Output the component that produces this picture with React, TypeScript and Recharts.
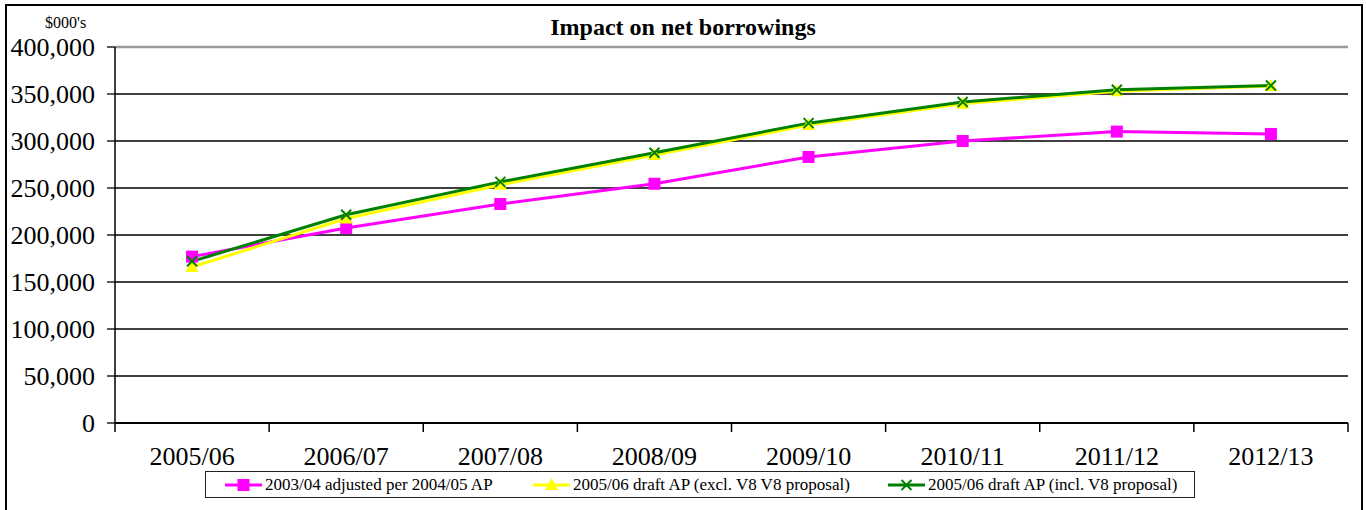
import React from 'react';
import { LineChart, Line, XAxis, YAxis, CartesianGrid, ReferenceLine } from 'recharts';

const years = ['2005/06', '2006/07', '2007/08', '2008/09', '2009/10', '2010/11', '2011/12', '2012/13'];
const adjusted0304 = [177000, 207500, 233000, 254500, 283000, 300000, 310000, 307500];
const draftExclV8 = [166000, 217500, 253500, 285000, 317000, 339500, 353000, 358500];
const draftInclV8 = [172000, 221500, 256500, 287500, 319000, 341500, 354500, 359000];
const yTicks = [0, 50000, 100000, 150000, 200000, 250000, 300000, 350000, 400000];
const seriesNames = [
  '2003/04 adjusted per 2004/05 AP',
  '2005/06 draft AP (excl. V8 V8 proposal)',
  '2005/06 draft AP (incl. V8 proposal)',
];

const PINK = '#FF00FF';
const YELLOW = '#FFFF00';
const GREEN = '#008000';
const FONT = '"Liberation Serif", "Times New Roman", serif';
const TICK_MARGIN = 24;

const data = years.map((year, i) => ({
  year,
  adjusted: adjusted0304[i],
  excl: draftExclV8[i],
  incl: draftInclV8[i],
}));

const square = (cx: number, cy: number) => (
  <rect x={cx - 6} y={cy - 6} width={12} height={12} fill={PINK} />
);
const triangle = (cx: number, cy: number) => (
  <polygon points={`${cx},${cy - 7} ${cx + 6.5},${cy + 5} ${cx - 6.5},${cy + 5}`} fill={YELLOW} />
);
const cross = (cx: number, cy: number) => (
  <path
    d={`M${cx - 5},${cy - 5}L${cx + 5},${cy + 5}M${cx + 5},${cy - 5}L${cx - 5},${cy + 5}`}
    stroke={GREEN}
    strokeWidth={2}
    fill="none"
  />
);

const markers = [square, triangle, cross];
const colors = [PINK, YELLOW, GREEN];

const makeDot = (draw: (cx: number, cy: number) => React.ReactElement) => (props: any) => {
  const { cx, cy, index } = props;
  if (cx == null || cy == null) return <g key={index} />;
  return <g key={index}>{draw(cx, cy)}</g>;
};

const fmt = (v: number) => v.toLocaleString('en-US');

// category label plus tick marks at the band edges (Excel style)
const YearTick = (props: any) => {
  const { x, y, payload, index } = props;
  const half = payload?.offset ?? 0;
  const axisY = y - TICK_MARGIN;
  return (
    <g>
      <line x1={x - half} y1={axisY} x2={x - half} y2={axisY + 9} stroke="#000" strokeWidth={1.5} />
      {index === years.length - 1 && (
        <line x1={x + half} y1={axisY} x2={x + half} y2={axisY + 9} stroke="#000" strokeWidth={1.5} />
      )}
      <text x={x} y={y} dy="0.71em" textAnchor="middle" fontSize={26} fill="#000" fontFamily={FONT}>
        {payload.value}
      </text>
    </g>
  );
};

const App = () => {
  return (
    <div
      style={{
        position: 'absolute',
        left: 0,
        top: 0,
        width: 1366,
        height: 510,
        overflow: 'hidden',
        background: '#fff',
        fontFamily: FONT,
      }}
    >
      <div
        style={{
          position: 'absolute',
          left: 5,
          top: 4,
          width: 1358,
          height: 600,
          border: '2px solid #000',
          boxSizing: 'border-box',
        }}
      />
      <div style={{ position: 'absolute', left: 45, top: 14, fontSize: 16, lineHeight: '18px' }}>$000's</div>
      <div
        style={{
          position: 'absolute',
          left: 0,
          width: 1366,
          top: 13,
          textAlign: 'center',
          fontSize: 24,
          fontWeight: 'bold',
          lineHeight: '28px',
        }}
      >
        Impact on net borrowings
      </div>

      <div style={{ position: 'absolute', left: 0, top: 0 }}>
        <LineChart width={1366} height={510} data={data} margin={{ top: 47, right: 18, left: 0, bottom: 0 }}>
          <CartesianGrid vertical={false} stroke="#000" strokeWidth={1.3} />
          <XAxis
            dataKey="year"
            scale="band"
            height={87}
            interval={0}
            axisLine={{ stroke: '#000', strokeWidth: 2 }}
            tickLine={false}
            tickSize={0}
            tickMargin={TICK_MARGIN}
            tick={<YearTick />}
          />
          <YAxis
            width={115}
            domain={[0, 400000]}
            ticks={yTicks}
            interval={0}
            tickFormatter={fmt}
            axisLine={{ stroke: '#000', strokeWidth: 1.5 }}
            tickLine={{ stroke: '#000', strokeWidth: 1.3 }}
            tickSize={8}
            tickMargin={12}
            tick={{ fontSize: 26, fill: '#000', fontFamily: FONT }}
          />
          <YAxis
            yAxisId="r"
            orientation="right"
            width={0}
            domain={[0, 1]}
            tick={false}
            tickLine={false}
            axisLine={{ stroke: '#999', strokeWidth: 2.5 }}
          />
          <ReferenceLine y={400000} stroke="#999" strokeWidth={2.5} />
          <Line
            dataKey="adjusted"
            name={seriesNames[0]}
            stroke={PINK}
            strokeWidth={3}
            dot={makeDot(square)}
            activeDot={false}
            isAnimationActive={false}
          />
          <Line
            dataKey="excl"
            name={seriesNames[1]}
            stroke={YELLOW}
            strokeWidth={3}
            dot={makeDot(triangle)}
            activeDot={false}
            isAnimationActive={false}
          />
          <Line
            dataKey="incl"
            name={seriesNames[2]}
            stroke={GREEN}
            strokeWidth={3}
            dot={makeDot(cross)}
            activeDot={false}
            isAnimationActive={false}
          />
        </LineChart>
      </div>

      <div
        style={{
          position: 'absolute',
          left: 205,
          top: 471,
          width: 990,
          height: 27,
          border: '1.5px solid #222',
          boxSizing: 'border-box',
          display: 'flex',
          alignItems: 'center',
          paddingLeft: 19,
          fontSize: 17,
        }}
      >
        {seriesNames.map((name, i) => (
          <div key={name} style={{ display: 'flex', alignItems: 'center', width: i === 0 ? 308 : i === 1 ? 355 : undefined }}>
            <svg width={37} height={16} style={{ marginRight: 3 }}>
              <line x1={0} y1={8} x2={37} y2={8} stroke={colors[i]} strokeWidth={3} />
              {markers[i](18.5, 8)}
            </svg>
            <span style={{ whiteSpace: 'nowrap', lineHeight: '20px' }}>{name}</span>
          </div>
        ))}
      </div>
    </div>
  );
};

export default App;
